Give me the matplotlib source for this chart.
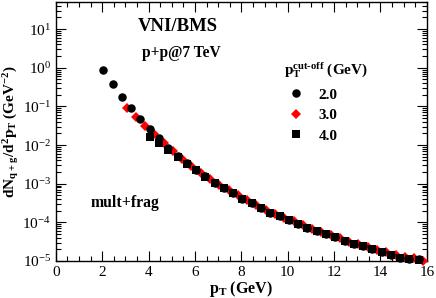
import numpy as np
import matplotlib
matplotlib.use('Agg')
import matplotlib.pyplot as plt
from matplotlib.ticker import MultipleLocator, LogLocator, NullFormatter

plt.rcParams['font.family'] = 'Liberation Serif'
plt.rcParams['mathtext.fontset'] = 'custom'
plt.rcParams['mathtext.rm'] = 'Liberation Serif'
plt.rcParams['mathtext.bf'] = 'Liberation Serif:bold'
plt.rcParams['mathtext.default'] = 'regular'

# pT cut-off = 2.0 GeV
pt_2 = [2.05, 2.45, 2.85, 3.25, 3.65, 4.05, 4.45, 4.85, 5.25, 5.65, 6.05, 6.45,
        6.85, 7.25, 7.65, 8.05, 8.45, 8.85, 9.25, 9.65, 10.05, 10.45, 10.85,
        11.25, 11.65, 12.05, 12.45, 12.85, 13.25, 13.65, 14.05, 14.45, 14.85,
        15.25, 15.65]
dn_2 = [0.87, 0.37, 0.18, 0.089, 0.047, 0.026, 0.015, 8.6e-3, 5.2e-3, 3.4e-3,
        2.2e-3, 1.55e-3, 1.07e-3, 7.8e-4, 5.7e-4, 4.1e-4, 3.2e-4, 2.35e-4,
        1.8e-4, 1.45e-4, 1.17e-4, 9.3e-5, 7.2e-5, 6.0e-5, 5.0e-5, 4.2e-5,
        3.3e-5, 2.8e-5, 2.4e-5, 2.1e-5, 1.7e-5, 1.4e-5, 1.22e-5, 1.12e-5, 1.1e-5]

# pT cut-off = 3.0 GeV
pt_3 = [3.05, 3.45, 3.85, 4.25, 4.65, 5.05, 5.45, 5.85, 6.25, 6.65, 7.05, 7.45,
        7.85, 8.25, 8.65, 9.05, 9.45, 9.85, 10.25, 10.65, 11.05, 11.45, 11.85,
        12.25, 12.65, 13.05, 13.45, 13.85, 14.25, 14.65, 15.05, 15.45, 15.85]
dn_3 = [0.092, 0.052, 0.031, 0.019, 0.0115, 7.0e-3, 4.4e-3, 2.9e-3, 1.95e-3,
        1.35e-3, 9.5e-4, 6.9e-4, 5.0e-4, 3.7e-4, 2.8e-4, 2.1e-4, 1.65e-4,
        1.32e-4, 1.06e-4, 8.4e-5, 6.8e-5, 5.6e-5, 4.7e-5, 3.9e-5, 3.2e-5,
        2.7e-5, 2.3e-5, 1.95e-5, 1.75e-5, 1.45e-5, 1.28e-5, 1.18e-5, 1.02e-5]

# pT cut-off = 4.0 GeV
pt_4 = [4.05, 4.45, 4.85, 5.25, 5.65, 6.05, 6.45, 6.85, 7.25, 7.65, 8.05, 8.45,
        8.85, 9.25, 9.65, 10.05, 10.45, 10.85, 11.25, 11.65, 12.05, 12.45,
        12.85, 13.25, 13.65, 14.05, 14.45, 14.85, 15.25, 15.65]
dn_4 = [0.016, 0.011, 7.3e-3, 5.0e-3, 3.3e-3, 2.2e-3, 1.5e-3, 1.05e-3, 7.6e-4,
        5.6e-4, 4.1e-4, 3.1e-4, 2.3e-4, 1.8e-4, 1.43e-4, 1.15e-4, 9.2e-5,
        7.3e-5, 6.0e-5, 5.0e-5, 4.1e-5, 3.4e-5, 2.8e-5, 2.4e-5, 2.0e-5,
        1.7e-5, 1.42e-5, 1.22e-5, 1.12e-5, 1.08e-5]

labels = ['2.0', '3.0', '4.0']

fig = plt.figure(figsize=(4.36, 2.98), dpi=100)
ax = fig.add_axes([0.128, 0.124, 0.851, 0.869])

ax.plot(pt_3, dn_3, 'D', color='red', ms=5.0, mew=0, ls='none', zorder=3,
        clip_on=False, label=labels[1])
ax.plot(pt_2, dn_2, 'o', color='black', ms=6.1, mew=0, ls='none', zorder=4,
        clip_on=False, label=labels[0])
ax.plot(pt_4, dn_4, 's', color='black', ms=5.2, mew=0, ls='none', zorder=5,
        clip_on=False, label=labels[2])

ax.set_yscale('log')
ax.set_xlim(0, 16)
ax.set_ylim(1e-5, 50)

ax.xaxis.set_major_locator(MultipleLocator(2))
ax.xaxis.set_minor_locator(MultipleLocator(0.5))
ax.yaxis.set_major_locator(LogLocator(base=10, numticks=20))
ax.yaxis.set_minor_locator(LogLocator(base=10, subs=np.arange(2, 10), numticks=20))
ax.yaxis.set_minor_formatter(NullFormatter())
ax.tick_params(which='both', direction='in', top=True, right=True, labelsize=11)
ax.tick_params(which='major', length=7, width=0.8)
ax.tick_params(which='minor', length=3.5, width=0.8)
for s in ax.spines.values():
    s.set_linewidth(1.0)

ax.set_xlabel(r'p$_T$ (GeV)', fontsize=11.5, fontweight='bold', labelpad=0)
ax.set_ylabel(r'dN$_{q+g}$/d$^2$p$_T$ (GeV$^{-2}$)', fontsize=11,
              fontweight='bold', labelpad=1)

ax.text(0.221, 0.905, 'VNI/BMS', transform=ax.transAxes, fontsize=13.5,
        fontweight='bold', va='center')
ax.text(0.232, 0.802, 'p+p@7 TeV', transform=ax.transAxes, fontsize=11.2,
        fontweight='bold', va='center')
ax.text(0.094, 0.224, 'mult+frag', transform=ax.transAxes, fontsize=11.3,
        fontweight='bold', va='center')
ax.text(0.615, 0.735, 'p$_T^{cut\u2010off}$ (GeV)', transform=ax.transAxes,
        fontsize=11, fontweight='bold', va='center')

handles, labs = ax.get_legend_handles_labels()
order = [1, 0, 2]
leg = ax.legend([handles[i] for i in order], [labs[i] for i in order],
                loc='upper left', bbox_to_anchor=(0.607, 0.698), frameon=False,
                handlelength=1.0, handletextpad=0.95, labelspacing=0.45,
                prop={'weight': 'bold', 'size': 11}, borderpad=0)

fig.savefig('out.png', dpi=100)
